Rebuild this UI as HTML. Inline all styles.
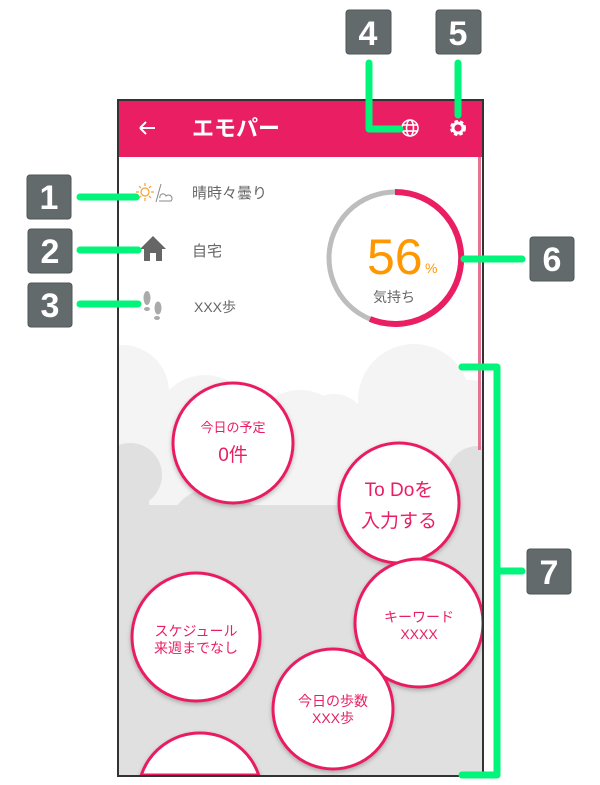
<!DOCTYPE html>
<html><head><meta charset="utf-8"><style>
html,body{margin:0;padding:0;background:#fff;width:600px;height:785px;overflow:hidden;}
svg{display:block;}
text{font-family:"Liberation Sans","Noto Sans CJK JP",sans-serif;}
</style></head><body>
<svg width="600" height="785" viewBox="0 0 600 785" xmlns="http://www.w3.org/2000/svg">
<defs>
<clipPath id="ph"><rect x="119" y="101" width="363" height="674"/></clipPath>
<filter id="sh" x="-10%" y="-10%" width="120%" height="120%"><feDropShadow dx="0" dy="2" stdDeviation="2" flood-color="#000" flood-opacity="0.25"/></filter>
</defs>
<g clip-path="url(#ph)">
<rect x="119" y="101" width="363" height="674" fill="#fff"/>
<g fill="#f4f4f4">
<circle cx="122" cy="392" r="47"/>
<circle cx="205" cy="425" r="50"/>
<circle cx="300" cy="440" r="50"/>
<circle cx="334" cy="428" r="34"/>
<circle cx="414" cy="400" r="56"/>
<circle cx="470" cy="420" r="40"/>
<rect x="119" y="420" width="363" height="100"/>
</g>
<g fill="#e0e0e0">
<circle cx="130" cy="475" r="32"/>
<circle cx="215" cy="535" r="48"/>
<circle cx="285" cy="565" r="50"/>
<circle cx="380" cy="555" r="40"/>
<circle cx="478" cy="478" r="32"/>
<rect x="119" y="505" width="363" height="270"/>
<rect x="119" y="475" width="30" height="40"/>
<rect x="450" y="478" width="32" height="40"/>
</g>
<rect x="119" y="101" width="363" height="56" fill="#e91e63"/>
<rect x="478" y="157" width="3" height="293" fill="#e57393"/>
<g fill="#fff" stroke="#e91e63" stroke-width="3" filter="url(#sh)">
<circle cx="233" cy="443" r="60"/>
<circle cx="399" cy="503" r="60"/>
<circle cx="196" cy="637" r="64"/>
<circle cx="419" cy="623" r="64"/>
<circle cx="333" cy="709" r="60"/>
<path d="M141.3 775 A62 62 0 0 1 258.7 775 Z"/>
</g>
</g>
<rect x="118" y="100" width="365" height="676" fill="none" stroke="#333" stroke-width="2"/>
<path d="M140 128 H155 M140 128 L146 122 M140 128 L146 134" stroke="#fff" stroke-width="2" fill="none"/>
<text x="192" y="136" font-size="22" fill="#fff" font-weight="bold">エモパー</text>
<g stroke="#fff" stroke-width="1.6" fill="none"><circle cx="410" cy="128" r="8"/><ellipse cx="410" cy="128" rx="3.5" ry="8"/><line x1="402" y1="125" x2="418" y2="125"/><line x1="402" y1="131" x2="418" y2="131"/></g>
<circle cx="458" cy="128" r="6" fill="none" stroke="#fff" stroke-width="4" stroke-dasharray="3 2"/>
<circle cx="458" cy="128" r="5" fill="none" stroke="#fff" stroke-width="3"/>
<g stroke="#f5a030" stroke-width="1.2" fill="none"><circle cx="145" cy="192" r="4"/><path d="M145 183v3M145 198v3M136 192h3M151 192h3M139 186l2 2M149 196l2 2M139 198l2-2M149 188l2-2"/></g>
<path d="M156 202 L161 184 M159 201 H171 A3 3 0 0 0 166 196 A3 3 0 0 0 160 198" stroke="#888" stroke-width="1" fill="none"/>
<text x="192" y="198" font-size="15" fill="#666">晴時々曇り</text>
<path d="M153 236 L140 249 H144 V261 H150 V253 H156 V261 H162 V249 H166 Z" fill="#666"/>
<text x="192" y="256" font-size="15" fill="#666">自宅</text>
<ellipse cx="147" cy="298" rx="3.5" ry="7" fill="#aaa"/><ellipse cx="147" cy="309" rx="3" ry="2" fill="#aaa"/>
<ellipse cx="158" cy="308" rx="3.5" ry="6.5" fill="#aaa"/><ellipse cx="157" cy="318" rx="3" ry="2" fill="#aaa"/>
<text x="194" y="312" font-size="14" fill="#666">XXX歩</text>
<circle cx="395" cy="258" r="66" fill="none" stroke="#bdbdbd" stroke-width="5"/>
<path d="M395 192 A66 66 0 1 1 370 319" fill="none" stroke="#e91e63" stroke-width="6"/>
<text x="367" y="274" font-size="50" fill="#ff9800">56</text>
<text x="425" y="273" font-size="14" fill="#ff9800">%</text>
<text x="373" y="302" font-size="14" fill="#666">気持ち</text>
<g fill="#e91e63" text-anchor="middle">
<text x="233" y="432" font-size="13">今日の予定</text>
<text x="233" y="461" font-size="19">0件</text>
<text x="399" y="496" font-size="19">To Doを</text>
<text x="399" y="527" font-size="19">入力する</text>
<text x="196" y="636" font-size="14">スケジュール</text>
<text x="196" y="653" font-size="14">来週までなし</text>
<text x="419" y="622" font-size="14">キーワード</text>
<text x="419" y="639" font-size="14">XXXX</text>
<text x="333" y="706" font-size="14">今日の歩数</text>
<text x="333" y="723" font-size="14">XXX歩</text>
</g>
<g stroke="#00f57a" stroke-width="7" fill="none" stroke-linecap="round" stroke-linejoin="round">
<path d="M369 63 V129 H400"/>
<path d="M458 63 V115"/>
<path d="M80 197 H136"/>
<path d="M80 250 H138"/>
<path d="M80 304 H138"/>
<path d="M464 259 H522"/>
<path d="M462 367 H497 V775 H462"/>
<path d="M497 571 H522"/>
</g>
<g fill="#636a6c" stroke="#4f5557" stroke-width="1">
<rect x="346" y="10" width="45" height="44" rx="3"/>
<rect x="436" y="10" width="45" height="44" rx="3"/>
<rect x="27" y="175" width="44" height="44" rx="3"/>
<rect x="28" y="229" width="44" height="44" rx="3"/>
<rect x="28" y="283" width="44" height="44" rx="3"/>
<rect x="530" y="237" width="44" height="44" rx="3"/>
<rect x="527" y="549" width="44" height="45" rx="3"/>
</g>
<g fill="#fff" font-size="34" font-weight="bold" text-anchor="middle">
<text x="368" y="45">4</text>
<text x="458" y="45">5</text>
<text x="49" y="209">1</text>
<text x="50" y="263">2</text>
<text x="50" y="317">3</text>
<text x="552" y="271">6</text>
<text x="549" y="584">7</text>
</g>
</svg>
</body></html>
